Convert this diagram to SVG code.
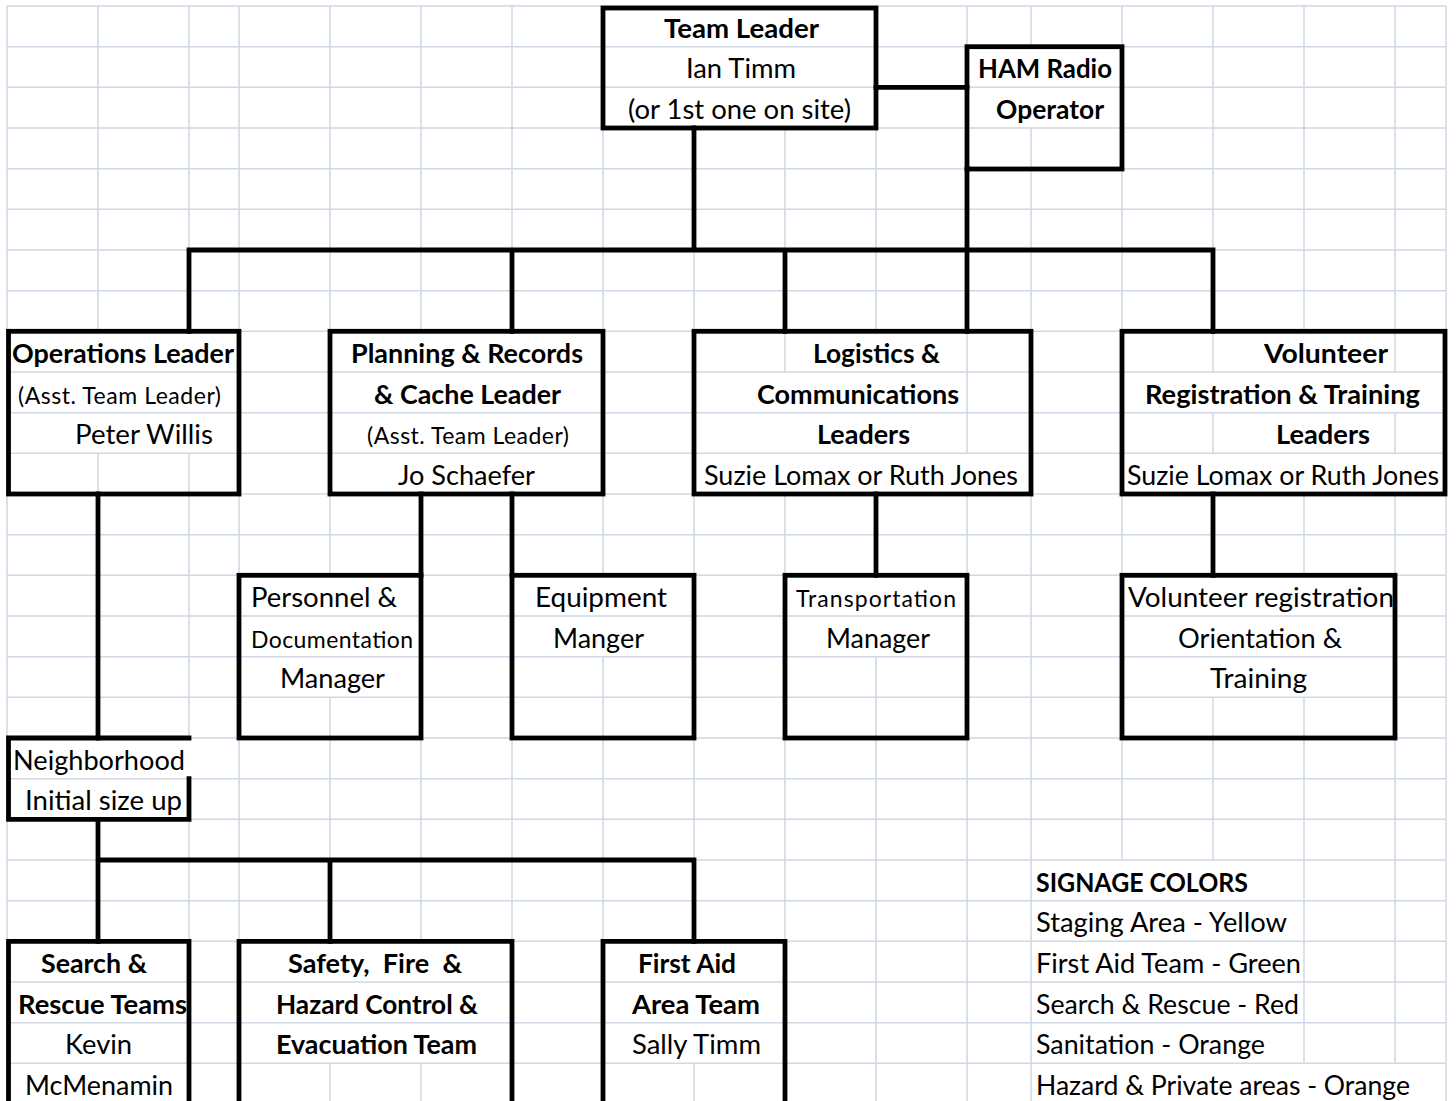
<svg xmlns="http://www.w3.org/2000/svg" width="1456" height="1101" viewBox="0 0 1456 1101">
<style>
.grid{stroke:#D0D7E5;stroke-width:1.5;fill:none}
.box,.conn{stroke:#000;stroke-width:4.8;fill:none;stroke-linecap:square}
text{font-family:Lato,"Liberation Sans",sans-serif;font-size:26px;fill:#000;transform:translateY(1.5px)}
.b{font-weight:bold}
.s{font-size:23px}
</style>
<rect width="1456" height="1101" fill="#fff"/>
<g id="grid">
<path class="grid" d="M7,6H1446M7,46.7H1446M7,87.3H1446M7,128H1446M7,168.7H1446M7,209.3H1446M7,250H1446M7,290.7H1446M7,331.3H1446M7,372H1446M7,412.7H1446M7,453.3H1446M7,494H1446M7,534.7H1446M7,575.3H1446M7,616H1446M7,656.7H1446M7,697.3H1446M7,738H1446M7,778.7H1446M7,819.3H1446M7,860H1446M7,900.7H1446M7,941.3H1446M7,982H1446M7,1022.7H1446M7,1063.3H1446"/>
<path class="grid" d="M7,6V1101
M98,6V331.3M98,453.3V738M98,819.3V941.3
M189,6V331.3M189,453.3V738M189,778.7V1101
M239,6V1101
M330,6V575.3M330,697.3V941.3M330,1063.3V1101
M421,6V331.3M421,494V941.3M421,1063.3V1101
M512,6V331.3M512,494V1101
M603,6V575.3M603,656.7V1101
M694,128V941.3M694,1063.3V1101
M785,128V372M785,494V1101
M876,6V331.3M876,494V575.3M876,656.7V1101
M967,6V453.3M967,494V1101
M1031,6V46.7M1031,128V1101
M1122,6V860
M1213,6V372M1213,412.7V453.3M1213,494V575.3M1213,697.3V860
M1304,6V331.3M1304,494V575.3M1304,697.3V1063.3
M1395,6V372M1395,412.7V453.3M1395,494V1063.3
M1446,6V1101"/>
</g>
<g id="connectors">
<path class="conn" d="M876,87.3H967M694,128V250M189,250H1213M967,169V331.3M189,250V331.3M512,250V331.3M785,250V331.3M1213,250V331.3M98,494V738M421,494V575.3M512,494V575.3M876,494V575.3M1213,494V575.3M98,819.3V941.3M98,860H694M330,860V941.3M694,860V941.3"/>
</g>
<g id="team-leader">
<rect class="box" x="603" y="8" width="273" height="120"/>
<text class="b" x="664" y="36.2" textLength="155" lengthAdjust="spacingAndGlyphs">Team Leader</text>
<text x="686" y="76.8" textLength="110" lengthAdjust="spacingAndGlyphs">Ian Timm</text>
<text x="628" y="117.5" textLength="223" lengthAdjust="spacingAndGlyphs">(or 1st one on site)</text>
</g>
<g id="ham-radio">
<rect class="box" x="967" y="46.7" width="155" height="122.3"/>
<text class="b" x="978" y="76.8" textLength="134" lengthAdjust="spacingAndGlyphs">HAM Radio</text>
<text class="b" x="996" y="117.5" textLength="108" lengthAdjust="spacingAndGlyphs">Operator</text>
</g>
<g id="operations-leader">
<rect class="box" x="8.5" y="331.3" width="230.5" height="162.7"/>
<text class="b" x="12" y="361.5" textLength="222" lengthAdjust="spacingAndGlyphs">Operations Leader</text>
<text class="s" x="18" y="402.2" textLength="203" lengthAdjust="spacing">(Asst. Team Leader)</text>
<text x="75" y="442.8" textLength="138" lengthAdjust="spacingAndGlyphs">Peter Willis</text>
</g>
<g id="planning-leader">
<rect class="box" x="330" y="331.3" width="273" height="162.7"/>
<text class="b" x="351" y="361.5" textLength="232" lengthAdjust="spacingAndGlyphs">Planning &amp; Records</text>
<text class="b" x="374" y="402.2" textLength="187" lengthAdjust="spacingAndGlyphs">&amp; Cache Leader</text>
<text class="s" x="367" y="442.8" textLength="202" lengthAdjust="spacing">(Asst. Team Leader)</text>
<text x="398" y="483.5" textLength="137" lengthAdjust="spacingAndGlyphs">Jo Schaefer</text>
</g>
<g id="logistics-leaders">
<rect class="box" x="694" y="331.3" width="337" height="162.7"/>
<text class="b" x="813" y="361.5" textLength="127" lengthAdjust="spacingAndGlyphs">Logistics &amp;</text>
<text class="b" x="757" y="402.2" textLength="202" lengthAdjust="spacingAndGlyphs">Communications</text>
<text class="b" x="817" y="442.8" textLength="93" lengthAdjust="spacingAndGlyphs">Leaders</text>
<text x="704" y="483.5" textLength="314" lengthAdjust="spacingAndGlyphs">Suzie Lomax or Ruth Jones</text>
</g>
<g id="volunteer-leaders">
<rect class="box" x="1122" y="331.3" width="323" height="162.7"/>
<text class="b" x="1264" y="361.5" textLength="124" lengthAdjust="spacingAndGlyphs">Volunteer</text>
<text class="b" x="1145" y="402.2" textLength="275" lengthAdjust="spacingAndGlyphs">Registration &amp; Training</text>
<text class="b" x="1276" y="442.8" textLength="94" lengthAdjust="spacingAndGlyphs">Leaders</text>
<text x="1127" y="483.5" textLength="312" lengthAdjust="spacingAndGlyphs">Suzie Lomax or Ruth Jones</text>
</g>
<g id="personnel-manager">
<rect class="box" x="239" y="575.3" width="182" height="162.7"/>
<text x="251" y="605.5" textLength="146" lengthAdjust="spacingAndGlyphs">Personnel &amp;</text>
<text class="s" x="251" y="646.2" textLength="162" lengthAdjust="spacing">Documentation</text>
<text x="280" y="686.8" textLength="105" lengthAdjust="spacingAndGlyphs">Manager</text>
</g>
<g id="equipment-manager">
<rect class="box" x="512" y="575.3" width="182" height="162.7"/>
<text x="535" y="605.5" textLength="132" lengthAdjust="spacingAndGlyphs">Equipment</text>
<text x="553" y="646.2" textLength="91" lengthAdjust="spacingAndGlyphs">Manger</text>
</g>
<g id="transportation-manager">
<rect class="box" x="785" y="575.3" width="182" height="162.7"/>
<text class="s" x="796" y="605.5" textLength="160" lengthAdjust="spacing">Transportation</text>
<text x="826" y="646.2" textLength="104" lengthAdjust="spacingAndGlyphs">Manager</text>
</g>
<g id="volunteer-registration">
<rect class="box" x="1122" y="575.3" width="273" height="162.7"/>
<text x="1128" y="605.5" textLength="266" lengthAdjust="spacingAndGlyphs">Volunteer registration</text>
<text x="1178" y="646.2" textLength="164" lengthAdjust="spacingAndGlyphs">Orientation &amp;</text>
<text x="1210" y="686.8" textLength="97" lengthAdjust="spacingAndGlyphs">Training</text>
</g>
<g id="neighborhood">
<path class="box" d="M189,738H8.5V819.3H189V778.7"/>
<text x="13" y="768.2" textLength="172" lengthAdjust="spacingAndGlyphs">Neighborhood</text>
<text x="25" y="808.8" textLength="157" lengthAdjust="spacingAndGlyphs">Initial size up</text>
</g>
<g id="search-rescue">
<path class="box" d="M8.5,1110V941.3H189V1110"/>
<text class="b" x="41" y="971.5" textLength="106" lengthAdjust="spacingAndGlyphs">Search &amp;</text>
<text class="b" x="18" y="1012.2" textLength="169" lengthAdjust="spacingAndGlyphs">Rescue Teams</text>
<text x="65" y="1052.8" textLength="67" lengthAdjust="spacingAndGlyphs">Kevin</text>
<text x="25" y="1093.5" textLength="148" lengthAdjust="spacingAndGlyphs">McMenamin</text>
</g>
<g id="safety-fire">
<path class="box" d="M239,1110V941.3H512V1110"/>
<text class="b" x="288" y="971.5" textLength="174" lengthAdjust="spacingAndGlyphs" style="white-space:pre">Safety,  Fire  &amp;</text>
<text class="b" x="276" y="1012.2" textLength="202" lengthAdjust="spacingAndGlyphs">Hazard Control &amp;</text>
<text class="b" x="276" y="1052.8" textLength="201" lengthAdjust="spacingAndGlyphs">Evacuation Team</text>
</g>
<g id="first-aid">
<path class="box" d="M603,1110V941.3H785V1110"/>
<text class="b" x="638" y="971.5" textLength="98" lengthAdjust="spacingAndGlyphs">First Aid</text>
<text class="b" x="632" y="1012.2" textLength="128" lengthAdjust="spacingAndGlyphs">Area Team</text>
<text x="632" y="1052.8" textLength="129" lengthAdjust="spacingAndGlyphs">Sally Timm</text>
</g>
<g id="signage-colors">
<text class="b" x="1036" y="890.2" textLength="212" lengthAdjust="spacingAndGlyphs">SIGNAGE COLORS</text>
<text x="1036" y="930.8" textLength="251" lengthAdjust="spacingAndGlyphs">Staging Area - Yellow</text>
<text x="1036" y="971.5" textLength="265" lengthAdjust="spacingAndGlyphs">First Aid Team - Green</text>
<text x="1036" y="1012.2" textLength="263" lengthAdjust="spacingAndGlyphs">Search &amp; Rescue - Red</text>
<text x="1036" y="1052.8" textLength="229" lengthAdjust="spacingAndGlyphs">Sanitation - Orange</text>
<text x="1036" y="1093.5" textLength="374" lengthAdjust="spacingAndGlyphs">Hazard &amp; Private areas - Orange</text>
</g>
</svg>
